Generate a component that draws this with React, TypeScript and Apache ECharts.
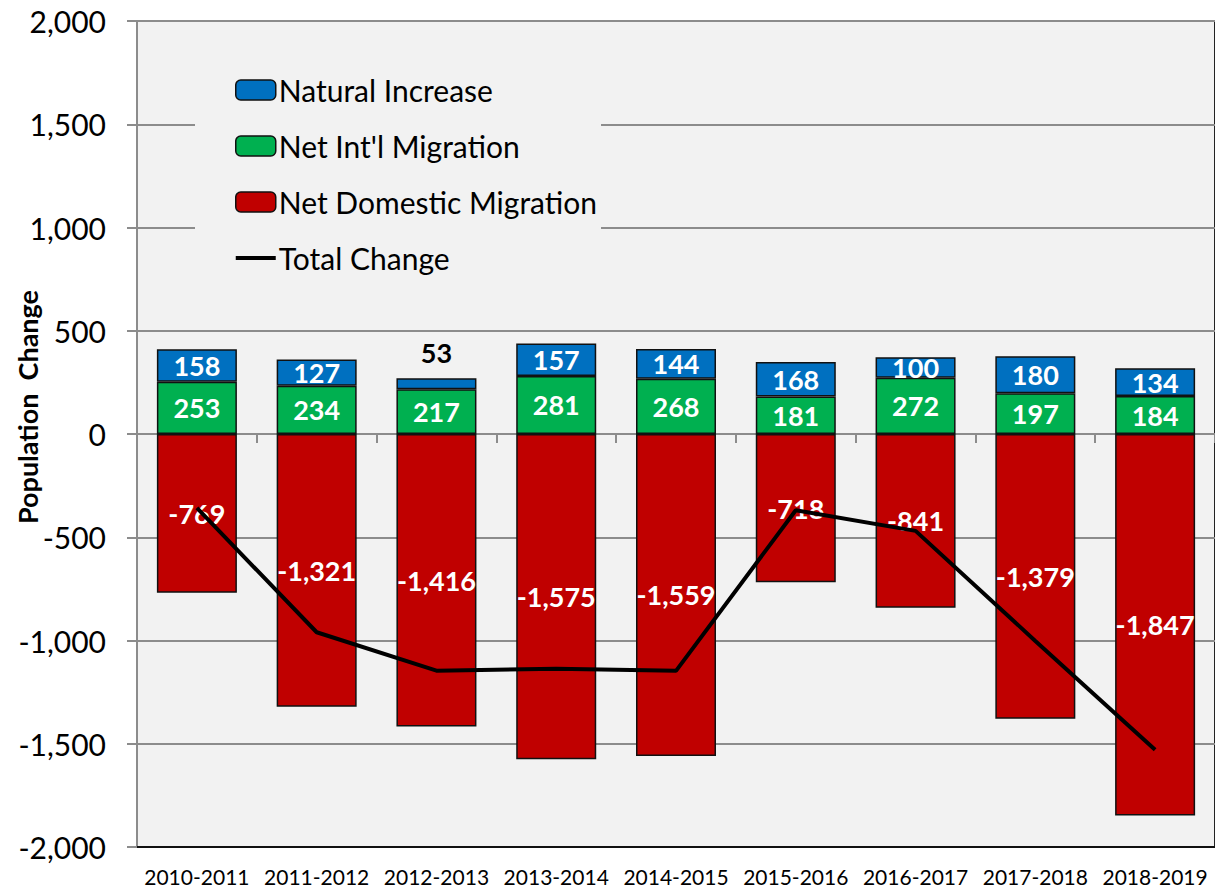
import React, { useEffect, useRef } from "react";
import * as echarts from "echarts";

const categories = ["2010-2011", "2011-2012", "2012-2013", "2013-2014", "2014-2015", "2015-2016", "2016-2017", "2017-2018", "2018-2019"];
const naturalIncrease = [158, 127, 53, 157, 144, 168, 100, 180, 134];
const netIntlMigration = [253, 234, 217, 281, 268, 181, 272, 197, 184];
const netDomesticMigration = [-769, -1321, -1416, -1575, -1559, -718, -841, -1379, -1847];
const totalChange = [-358, -960, -1146, -1137, -1147, -369, -469, -1002, -1529];
const yTicks = [-2000, -1500, -1000, -500, 0, 500, 1000, 1500, 2000];

const FONT = "Lato, 'Noto Sans', sans-serif";

export default function App() {
  const ref = useRef<HTMLDivElement>(null);
  useEffect(() => {
    const chart = echarts.init(ref.current!, null, { renderer: "svg" });
    const barLabel = {
      show: true,
      position: "inside",
      color: "#fff",
      fontWeight: "bold",
      fontSize: 27,
      fontFamily: FONT,
    };
    const barItem = (color: string) => ({ color, borderColor: "#111", borderWidth: 1.5 });
    chart.setOption({
      animation: false,
      backgroundColor: "#fff",
      textStyle: { fontFamily: FONT },
      grid: {
        left: 137,
        top: 21,
        bottom: 42,
        right: -9,
        show: true,
        backgroundColor: "#f2f2f2",
        borderColor: "#222",
        borderWidth: 2,
      },
      legend: {
        orient: "vertical",
        left: 195,
        top: 55,
        padding: [20, 4, 18, 40],
        backgroundColor: "#f2f2f2",
        itemWidth: 40,
        itemHeight: 20,
        itemGap: 26,
        data: [
          { name: "Natural Increase", itemStyle: { borderColor: "#111", borderWidth: 1.5 } },
          { name: "Net Int'l Migration", itemStyle: { borderColor: "#111", borderWidth: 1.5 } },
          { name: "Net Domestic Migration", itemStyle: { borderColor: "#111", borderWidth: 1.5 } },
          {
            name: "Total Change",
            icon: "path://M0,0L0,0M0,8L40,8L40,12L0,12ZM40,20L40,20",
            itemStyle: { color: "#000", borderWidth: 0 },
          },
        ],
        textStyle: { fontSize: 30, color: "#000", fontFamily: FONT, padding: [0, 0, 0, -2], lineHeight: 30 },
      },
      xAxis: [
        {
          type: "category",
          data: categories,
          position: "bottom",
          axisLine: { onZero: false, lineStyle: { color: "#111", width: 2 } },
          axisTick: { show: false },
          axisLabel: { fontSize: 21, color: "#000", margin: 19, fontFamily: FONT, interval: 0 },
        },
        {
          type: "category",
          data: categories,
          position: "bottom",
          axisLine: { onZero: true, lineStyle: { color: "#8c8c8c", width: 2 } },
          axisTick: { show: true, length: 9, lineStyle: { color: "#8c8c8c", width: 2 } },
          axisLabel: { show: false },
        },
      ],
      yAxis: {
        type: "value",
        min: -2000,
        max: 2000,
        interval: 500,
        axisLine: { show: true, lineStyle: { color: "#8c8c8c", width: 2 } },
        axisTick: { show: true, length: 10, lineStyle: { color: "#8c8c8c", width: 2 } },
        splitLine: { show: true, lineStyle: { color: "#8c8c8c", width: 2 } },
        axisLabel: {
          fontSize: 30,
          color: "#000",
          margin: 31,
          fontFamily: FONT,
          formatter: (v: number) => (yTicks.includes(v) ? v.toLocaleString("en-US") : ""),
        },
      },
      graphic: [
        {
          type: "text",
          x: 27,
          y: 407,
          rotation: Math.PI / 2,
          style: {
            text: "Population  Change",
            fontSize: 27,
            fontWeight: "bold",
            fontFamily: FONT,
            fill: "#000",
            align: "center",
            verticalAlign: "middle",
          },
        },
      ],
      series: [
        {
          name: "Net Domestic Migration",
          type: "bar",
          stack: "s",
          barWidth: 80,
          data: netDomesticMigration,
          itemStyle: barItem("#c00000"),
          label: { ...barLabel, formatter: (p: any) => p.value.toLocaleString("en-US") },
        },
        {
          name: "Net Int'l Migration",
          type: "bar",
          stack: "s",
          barWidth: 80,
          data: netIntlMigration,
          itemStyle: barItem("#00b050"),
          label: barLabel,
        },
        {
          name: "Natural Increase",
          type: "bar",
          stack: "s",
          barWidth: 80,
          data: naturalIncrease.map((v) =>
            v < 80
              ? { value: v, label: { position: "top", color: "#000", distance: 12 } }
              : v
          ),
          itemStyle: barItem("#0070c0"),
          label: barLabel,
        },
        {
          name: "Total Change",
          type: "line",
          data: totalChange,
          symbol: "none",
          lineStyle: { color: "#000", width: 4 },
          itemStyle: { color: "#000" },
          z: 5,
        },
      ],
    });
    return () => chart.dispose();
  }, []);
  return <div ref={ref} style={{ position: "absolute", left: 0, top: 0, width: 1215, height: 889 }} />;
}
